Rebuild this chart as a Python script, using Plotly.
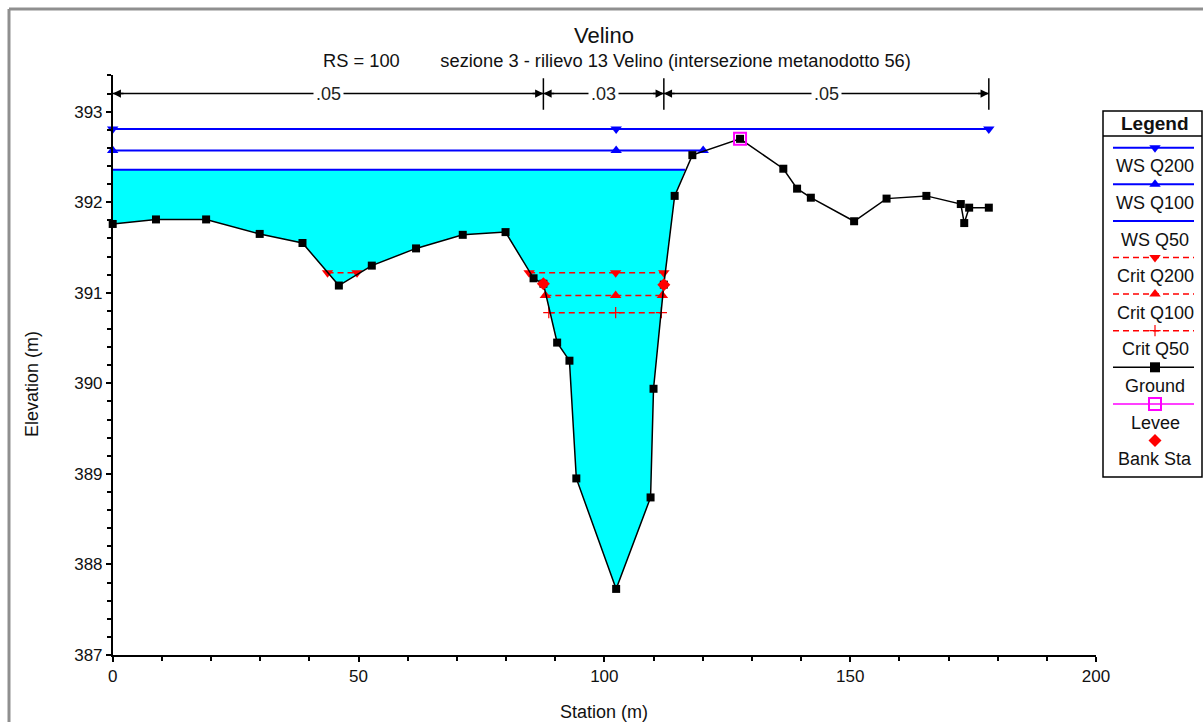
import numpy as np
import plotly.graph_objects as go

# ---------------- data ----------------
title_text = "Velino"
subtitle_text = "RS = 100" + "\u00a0" * 8 + "sezione 3 - rilievo 13 Velino (intersezione metanodotto 56)"

ground_x = [0.0, 8.8, 19.0, 29.9, 38.6, 46.0, 52.7, 61.7, 71.2, 79.9, 85.6, 87.6,
            90.4, 92.9, 94.3, 102.4, 109.4, 110.0, 112.1, 114.3, 117.9, 127.6,
            136.4, 139.2, 142.0, 150.8, 157.4, 165.5, 172.5, 173.2, 174.2, 178.2]
ground_y = [391.76, 391.81, 391.81, 391.65, 391.55, 391.08, 391.30, 391.49, 391.64,
            391.67, 391.16, 391.10, 390.45, 390.25, 388.95, 387.73, 388.74, 389.94,
            391.09, 392.07, 392.52, 392.70, 392.37, 392.15, 392.05, 391.79, 392.04,
            392.07, 391.98, 391.77, 391.94, 391.94]

ws_q200_x = [0.0, 102.4, 178.2]
ws_q200_y = [392.81, 392.81, 392.81]
ws_q100_x = [0.0, 102.4, 120.1]
ws_q100_y = [392.57, 392.57, 392.57]
ws_q50_x = [0.0, 116.4]
ws_q50_y = [392.36, 392.36]

crit_q200_x = [43.7, 49.7, None, 84.7, 102.3, 112.1]
crit_q200_y = [391.22, 391.22, None, 391.22, 391.22, 391.22]
crit_q100_x = [88.0, 102.3, 111.8]
crit_q100_y = [390.97, 390.97, 390.97]
crit_q50_x = [88.7, 102.3, 111.6]
crit_q50_y = [390.78, 390.78, 390.78]

levee_x = [127.6]
levee_y = [392.70]
bank_x = [87.6, 112.1]
bank_y = [391.10, 391.09]

manning_breaks = [0.0, 87.6, 112.1, 178.2]
manning_n = [".05", ".03", ".05"]

x_ticks = [0, 50, 100, 150, 200]
y_ticks = [387, 388, 389, 390, 391, 392, 393]

legend_names = ["WS Q200", "WS Q100", "WS Q50", "Crit Q200", "Crit Q100",
                "Crit Q50", "Ground", "Levee", "Bank Sta"]

# ---------------- styles ----------------
FONT = "Liberation Sans, Arial, sans-serif"
BLUE = "#0000FF"
RED = "#FF0000"
CYAN = "#00FFFF"
MAG = "#FF00FF"
W, H = 1203, 722
PL, PR, PT, PB = 112.7, 1096.0, 75.0, 655.0   # plot area in pixels
YTOP = 393.405

fig = go.Figure()

# water fill for WS Q50
fx = [ws_q50_x[0]] + [x for x in ground_x if x < ws_q50_x[-1]] + [ws_q50_x[-1]]
fy = [ws_q50_y[0]] + [y for x, y in zip(ground_x, ground_y) if x < ws_q50_x[-1]] + [ws_q50_y[-1]]
fig.add_trace(go.Scatter(x=fx, y=fy, fill="toself", fillcolor=CYAN, mode="none",
                         showlegend=False, hoverinfo="skip"))

common = dict(showlegend=False, cliponaxis=False)
fig.add_trace(go.Scatter(x=ws_q200_x, y=ws_q200_y, mode="lines+markers",
                         line=dict(color=BLUE, width=2),
                         marker=dict(symbol="triangle-down", size=10, color=BLUE), **common))
fig.add_trace(go.Scatter(x=ws_q100_x, y=ws_q100_y, mode="lines+markers",
                         line=dict(color=BLUE, width=2),
                         marker=dict(symbol="triangle-up", size=10, color=BLUE), **common))
fig.add_trace(go.Scatter(x=ws_q50_x, y=ws_q50_y, mode="lines",
                         line=dict(color=BLUE, width=2), **common))

DASH = "6px,4px"
fig.add_trace(go.Scatter(x=crit_q200_x, y=crit_q200_y, mode="lines+markers",
                         line=dict(color=RED, width=1.5, dash=DASH),
                         marker=dict(symbol="triangle-down", size=10, color=RED),
                         connectgaps=False, **common))
fig.add_trace(go.Scatter(x=crit_q100_x, y=crit_q100_y, mode="lines+markers",
                         line=dict(color=RED, width=1.5, dash=DASH),
                         marker=dict(symbol="triangle-up", size=10, color=RED), **common))
fig.add_trace(go.Scatter(x=crit_q50_x, y=crit_q50_y, mode="lines+markers",
                         line=dict(color=RED, width=1.5, dash=DASH),
                         marker=dict(symbol="cross-thin", size=8, color=RED,
                                     line=dict(color=RED, width=1.2)), **common))

fig.add_trace(go.Scatter(x=ground_x, y=ground_y, mode="lines+markers",
                         line=dict(color="black", width=1.5),
                         marker=dict(symbol="square", size=8, color="black"), **common))
fig.add_trace(go.Scatter(x=levee_x, y=levee_y, mode="markers",
                         marker=dict(symbol="square-open", size=12, color=MAG,
                                     line=dict(color=MAG, width=2)), **common))
fig.add_trace(go.Scatter(x=bank_x, y=bank_y, mode="markers",
                         marker=dict(symbol="diamond", size=10, color=RED), **common))

# ---------------- Manning's n bar ----------------
y_arrow = 393.20
shapes = []
annotations = []
for xb in manning_breaks[1:]:
    shapes.append(dict(type="line", xref="x", yref="y", x0=xb, x1=xb, y0=393.02, y1=393.37,
                       line=dict(color="black", width=1.5)))
for i, lab in enumerate(manning_n):
    a, b = manning_breaks[i], manning_breaks[i + 1]
    shapes.append(dict(type="line", xref="x", yref="y", x0=a, x1=b, y0=y_arrow, y1=y_arrow,
                       line=dict(color="black", width=1.5)))
    for tip, tail in ((a, a + 2.5), (b, b - 2.5)):
        annotations.append(dict(x=tip, y=y_arrow, ax=tail, ay=y_arrow, xref="x", yref="y",
                                axref="x", ayref="y", text="", showarrow=True,
                                arrowhead=2, arrowsize=1.1, arrowwidth=1.5,
                                arrowcolor="black"))
    annotations.append(dict(x=(a + b) / 2, y=y_arrow, xref="x", yref="y", text=lab,
                            showarrow=False, bgcolor="white", borderpad=2,
                            font=dict(family=FONT, size=18, color="#222")))

# ---------------- titles (pixel overlay axes) ----------------
def pix_annot(x, y, text, size, bold=False, angle=0):
    return dict(x=x, y=y, xref="x2", yref="y2", text=("<b>%s</b>" % text) if bold else text,
                showarrow=False, textangle=angle, xanchor="center", yanchor="middle",
                font=dict(family=FONT, size=size, color="#111"))

annotations.append(pix_annot(604, 35, title_text, 22))
annotations.append(pix_annot(617, 60, subtitle_text, 18.3))
annotations.append(pix_annot(604, 712, "Station (m)", 18))
annotations.append(pix_annot(32, 384, "Elevation (m)", 18, angle=-90))

# ---------------- custom legend ----------------
LX0, LX1, LT, LB = 1103, 1202, 111, 477
LMID = 1155
shapes.append(dict(type="rect", xref="x2", yref="y2", x0=LX0, x1=LX1, y0=LT, y1=LB,
                   line=dict(color="black", width=1.5), fillcolor="white", layer="below"))
shapes.append(dict(type="line", xref="x2", yref="y2", x0=LX0, x1=LX1, y0=136, y1=136,
                   line=dict(color="black", width=1.5)))
annotations.append(pix_annot(LMID, 123, "Legend", 19, bold=True))

leg_styles = [
    dict(color=BLUE, dash="solid", symbol="triangle-down", mcolor=BLUE),
    dict(color=BLUE, dash="solid", symbol="triangle-up", mcolor=BLUE),
    dict(color=BLUE, dash="solid", symbol=None, mcolor=None),
    dict(color=RED, dash=DASH, symbol="triangle-down", mcolor=RED),
    dict(color=RED, dash=DASH, symbol="triangle-up", mcolor=RED),
    dict(color=RED, dash=DASH, symbol="cross-thin", mcolor=RED),
    dict(color="black", dash="solid", symbol="square", mcolor="black"),
    dict(color=MAG, dash="solid", symbol="square-open", mcolor=MAG),
    dict(color=None, dash=None, symbol="diamond", mcolor=RED),
]
step = 36.6
for i, (name, st) in enumerate(zip(legend_names, leg_styles)):
    ly = 147.7 + i * step
    if st["color"] is not None:
        lw = 2 if st["color"] == BLUE else 1.5
        fig.add_trace(go.Scatter(x=[1113, 1194], y=[ly, ly], xaxis="x2", yaxis="y2",
                                 mode="lines", line=dict(color=st["color"], width=lw,
                                                         dash=st["dash"]),
                                 showlegend=False, hoverinfo="skip", cliponaxis=False))
    if st["symbol"] is not None:
        if st["symbol"] == "square-open":
            mk = dict(symbol="square-open", size=12, color=MAG, line=dict(color=MAG, width=2))
        elif st["symbol"] == "cross-thin":
            mk = dict(symbol="cross-thin", size=8, color=RED, line=dict(color=RED, width=1.2))
        else:
            mk = dict(symbol=st["symbol"], size=10, color=st["mcolor"])
        fig.add_trace(go.Scatter(x=[LMID], y=[ly], xaxis="x2", yaxis="y2", mode="markers",
                                 marker=mk, showlegend=False, hoverinfo="skip",
                                 cliponaxis=False))
    annotations.append(pix_annot(LMID, ly + 18.6, name, 18))

# ---------------- window border ----------------
shapes.append(dict(type="line", xref="paper", yref="paper", x0=9 / W, x1=9 / W,
                   y0=0, y1=1 - 9 / H, line=dict(color="#8f8f8f", width=3)))
shapes.append(dict(type="line", xref="paper", yref="paper", x0=9 / W, x1=1,
                   y0=1 - 9 / H, y1=1 - 9 / H, line=dict(color="#8f8f8f", width=3)))

minor_y = [v for v in np.round(np.arange(387, 393.41, 0.2), 1) if abs(v - round(v)) > 1e-6]
minor_x = [v for v in range(0, 201, 10) if v % 50 != 0]

fig.update_layout(
    width=W, height=H,
    margin=dict(l=0, r=0, t=0, b=0, autoexpand=False),
    paper_bgcolor="white", plot_bgcolor="rgba(0,0,0,0)",
    showlegend=False,
    font=dict(family=FONT, size=17, color="#111"),
    xaxis=dict(domain=[PL / W, PR / W], range=[0, 200], tickvals=x_ticks,
               ticks="outside", ticklen=5, tickwidth=1.5, tickcolor="black",
               showline=True, linecolor="black", linewidth=1.5, showgrid=False,
               zeroline=False, tickfont=dict(family=FONT, size=17, color="#111"),
               minor=dict(tickmode="array", tickvals=minor_x, ticks="outside",
                          ticklen=4, tickwidth=1.5, tickcolor="black", showgrid=False)),
    yaxis=dict(domain=[1 - PB / H, 1 - PT / H], range=[387, YTOP], tickvals=y_ticks,
               ticks="outside", ticklen=5, tickwidth=1.5, tickcolor="black",
               showline=True, linecolor="black", linewidth=1.5, showgrid=False,
               zeroline=False, tickfont=dict(family=FONT, size=17, color="#111"),
               minor=dict(tickmode="array", tickvals=minor_y, ticks="outside",
                          ticklen=4, tickwidth=1.5, tickcolor="black", showgrid=False)),
    xaxis2=dict(domain=[0, 1], range=[0, W], visible=False, anchor="y2"),
    yaxis2=dict(domain=[0, 1], range=[H, 0], visible=False, anchor="x2"),
    shapes=shapes,
    annotations=annotations,
)

fig.write_html("out.html")
